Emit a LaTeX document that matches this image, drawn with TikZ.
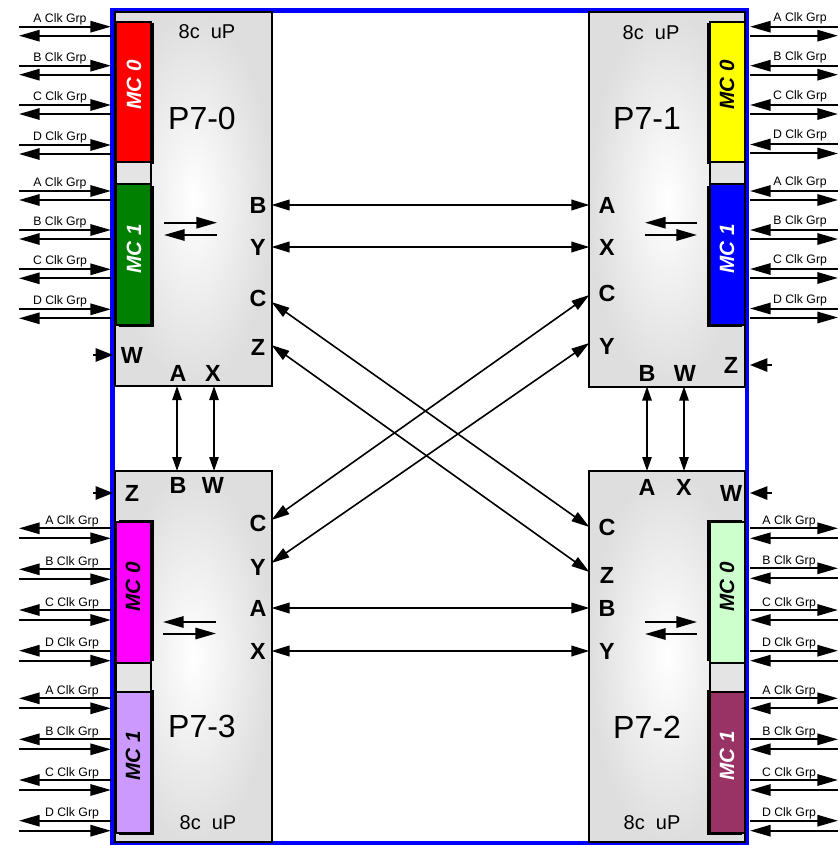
\documentclass[tikz,border=0pt]{standalone}
\usepackage{fontspec}
\setmainfont{Liberation Sans}
\usetikzlibrary{arrows.meta}

\definecolor{frameblue}{RGB}{0,0,255}
\definecolor{mcred}{RGB}{255,0,0}
\definecolor{mcgreen}{RGB}{0,128,0}
\definecolor{mcyellow}{RGB}{255,255,0}
\definecolor{mcblue}{RGB}{0,0,255}
\definecolor{mcmagenta}{RGB}{255,0,255}
\definecolor{mclilac}{RGB}{204,153,255}
\definecolor{mcmint}{RGB}{204,255,204}
\definecolor{mcplum}{RGB}{153,51,102}
\definecolor{boxgray}{RGB}{222,222,222}
\definecolor{gapgray}{RGB}{228,228,228}

\tikzset{
  procbox/.style={draw=black, line width=1.5pt, inner color=white, outer color=boxgray},
  mcblock/.style={draw=black, line width=1.3pt},
  mcshade/.style={fill=black},
  mcgap/.style={draw=black, line width=1pt, fill=gapgray},
  mctext/.style={font=\fontsize{15.5}{16}\selectfont\bfseries\itshape, rotate=90, inner sep=0pt},
  chip/.style={font=\fontsize{24}{26}\selectfont, inner sep=0pt},
  cores/.style={font=\fontsize{15}{16}\selectfont, inner sep=0pt},
  port/.style={font=\fontsize{17.5}{18}\selectfont\bfseries, inner sep=0pt},
  grp/.style={font=\fontsize{9.2}{10}\selectfont, inner sep=0pt, anchor=base},
  clk/.style={line width=1.5pt, -{Triangle[length=15.5pt,width=8.5pt]}},
  link/.style={line width=1.2pt, {Triangle[length=13.5pt,width=8pt]}-{Triangle[length=13.5pt,width=8pt]}},
  vlink/.style={line width=1.2pt, {Triangle[length=10.5pt,width=7pt]}-{Triangle[length=10.5pt,width=7pt]}},
  stub/.style={line width=1.2pt, -{Triangle[length=13pt,width=10pt]}},
}

\begin{document}
\begin{tikzpicture}[x=0.75pt,y=-0.75pt]
\useasboundingbox (0,0) rectangle (839,845);

% board outline
\draw[frameblue, line width=3.6pt] (112.5,10.5) rectangle (747,843.5);

% processor boxes
\draw[procbox] (115,12) rectangle (271.5,386);
\draw[procbox] (589.3,12) rectangle (745,386.5);
\draw[procbox] (115,471) rectangle (271.5,842);
\draw[procbox] (589.3,471) rectangle (745,842);

% memory controllers of P7-0
\fill[mcshade] (118.5,23.5) rectangle (153.5,163.5);
\fill[mcshade] (118.5,185.5) rectangle (153.5,326.5);
\draw[mcgap] (116,162) rectangle (151,184);
\draw[mcblock, fill=mcred] (116,22) rectangle (151,162);
\draw[mcblock, fill=mcgreen] (116,184) rectangle (151,325);
\node[mctext, text=white] (p0mc0) at (134,85) {MC 0};
\node[mctext, text=white] (p0mc1) at (134,249) {MC 1};

% memory controllers of P7-1
\fill[mcshade] (707,23.5) rectangle (742,163.5);
\fill[mcshade] (707,185.5) rectangle (742,326.5);
\draw[mcgap] (710,162) rectangle (745,184);
\draw[mcblock, fill=mcyellow] (710,22) rectangle (745,162);
\draw[mcblock, fill=mcblue] (710,184) rectangle (745,325);
\node[mctext, text=black] (p1mc0) at (727,85) {MC 0};
\node[mctext, text=white] (p1mc1) at (727,249) {MC 1};

% memory controllers of P7-3
\fill[mcshade] (119,519.5) rectangle (154,660.5);
\fill[mcshade] (119,689.5) rectangle (154,835);
\draw[mcgap] (116,663) rectangle (151,692);
\draw[mcblock, fill=mcmagenta] (116,522) rectangle (151,663);
\draw[mcblock, fill=mclilac] (116,692) rectangle (151,833);
\node[mctext, text=black] (p3mc0) at (133,587) {MC 0};
\node[mctext, text=black] (p3mc1) at (133,756) {MC 1};

% memory controllers of P7-2
\fill[mcshade] (707,519.5) rectangle (742,660.5);
\fill[mcshade] (707,689.5) rectangle (742,835);
\draw[mcgap] (710,663) rectangle (745,692);
\draw[mcblock, fill=mcmint] (710,522) rectangle (745,663);
\draw[mcblock, fill=mcplum] (710,692) rectangle (745,833);
\node[mctext, text=black] (p2mc0) at (727,587) {MC 0};
\node[mctext, text=white] (p2mc1) at (727,756) {MC 1};

% chip names and core counts
\node[chip] (n0) at (202,118) {P7-0};
\node[chip] (n1) at (647,118) {P7-1};
\node[chip] (n3) at (202,726) {P7-3};
\node[chip] (n2) at (647,727) {P7-2};
\node[cores] (c0) at (207,32) {8c\ \ uP};
\node[cores] (c1) at (651,32.5) {8c\ \ uP};
\node[cores] (c3) at (208,822.5) {8c\ \ uP};
\node[cores] (c2) at (652,822.5) {8c\ \ uP};

% clock group buses, P7-0 (left, top)
\foreach \yy/\g [count=\i] in {26.7/A,65.7/B,105/C,145/D,191/A,230/B,269.3/C,309.3/D}{
  \coordinate (tl\i-uo) at (19,\yy);
  \coordinate (tl\i-ui) at (111,\yy);
  \coordinate (tl\i-lo) at (19,\yy+9);
  \coordinate (tl\i-li) at (111,\yy+9);
  \draw[clk] (tl\i-uo) -- (tl\i-ui);
  \draw[clk] (tl\i-li) -- (tl\i-lo);
  \node[grp] (tl\i-lab) at (60,\yy-4.5) {\g\ Clk Grp};
}

% clock group buses, P7-1 (right, top)
\foreach \yy/\g [count=\i] in {26.7/A,65.7/B,105/C,144.5/D,191/A,230/B,269/C,308.5/D}{
  \coordinate (tr\i-uo) at (838,\yy);
  \coordinate (tr\i-ui) at (750,\yy);
  \coordinate (tr\i-lo) at (838,\yy+9);
  \coordinate (tr\i-li) at (750,\yy+9);
  \draw[clk] (tr\i-uo) -- (tr\i-ui);
  \draw[clk] (tr\i-li) -- (tr\i-lo);
  \node[grp] (tr\i-lab) at (800,\yy-5.5) {\g\ Clk Grp};
}

% clock group buses, P7-3 (left, bottom)
\foreach \yy/\g [count=\i] in {528.3/A,569.3/B,610/C,650.7/D,698.3/A,739.3/B,780/C,820.7/D}{
  \coordinate (bl\i-uo) at (19,\yy);
  \coordinate (bl\i-ui) at (111,\yy);
  \coordinate (bl\i-lo) at (19,\yy+10);
  \coordinate (bl\i-li) at (111,\yy+10);
  \draw[clk] (bl\i-ui) -- (bl\i-uo);
  \draw[clk] (bl\i-lo) -- (bl\i-li);
  \node[grp] (bl\i-lab) at (72,\yy-4) {\g\ Clk Grp};
}

% clock group buses, P7-2 (right, bottom)
\foreach \yy/\g [count=\i] in {528.3/A,568.3/B,610/C,650.7/D,698.3/A,739.3/B,780/C,820.7/D}{
  \coordinate (br\i-uo) at (838,\yy);
  \coordinate (br\i-ui) at (750,\yy);
  \coordinate (br\i-lo) at (838,\yy+10);
  \coordinate (br\i-li) at (750,\yy+10);
  \draw[clk] (br\i-ui) -- (br\i-uo);
  \draw[clk] (br\i-lo) -- (br\i-li);
  \node[grp] (br\i-lab) at (789,\yy-4) {\g\ Clk Grp};
}

% controller to core traffic inside each chip
\coordinate (i0a) at (164,222.7); \coordinate (i0b) at (217,222.7);
\coordinate (i0c) at (217,235);   \coordinate (i0d) at (164,235);
\draw[clk] (i0a) -- (i0b); \draw[clk] (i0c) -- (i0d);
\coordinate (i1a) at (697,222.7); \coordinate (i1b) at (645,222.7);
\coordinate (i1c) at (645,235);   \coordinate (i1d) at (697,235);
\draw[clk] (i1a) -- (i1b); \draw[clk] (i1c) -- (i1d);
\coordinate (i3a) at (216,622); \coordinate (i3b) at (163,622);
\coordinate (i3c) at (163,633.5); \coordinate (i3d) at (216,633.5);
\draw[clk] (i3a) -- (i3b); \draw[clk] (i3c) -- (i3d);
\coordinate (i2a) at (645,622); \coordinate (i2b) at (697,622);
\coordinate (i2c) at (697,634); \coordinate (i2d) at (645,634);
\draw[clk] (i2a) -- (i2b); \draw[clk] (i2c) -- (i2d);

% port letters
\node[port] (l0B) at (258,205) {B};
\node[port] (l0Y) at (258,247) {Y};
\node[port] (l0C) at (258,298) {C};
\node[port] (l0Z) at (258,347) {Z};
\node[port] (l0W) at (132,355) {W};
\node[port] (l0A) at (178,373) {A};
\node[port] (l0X) at (213,373) {X};

\node[port] (l1A) at (607,205) {A};
\node[port] (l1X) at (607,247) {X};
\node[port] (l1C) at (607,293) {C};
\node[port] (l1Y) at (607,346) {Y};
\node[port] (l1B) at (647,373) {B};
\node[port] (l1W) at (685,373) {W};
\node[port] (l1Z) at (731,365) {Z};

\node[port] (l3Z) at (132,493) {Z};
\node[port] (l3B) at (178,485) {B};
\node[port] (l3W) at (213,485) {W};
\node[port] (l3C) at (258,523) {C};
\node[port] (l3Y) at (258,567) {Y};
\node[port] (l3A) at (258,608) {A};
\node[port] (l3X) at (258,651) {X};

\node[port] (l2A) at (647,487) {A};
\node[port] (l2X) at (684,487) {X};
\node[port] (l2W) at (731,493) {W};
\node[port] (l2C) at (607,527) {C};
\node[port] (l2Z) at (607,575) {Z};
\node[port] (l2B) at (607,608) {B};
\node[port] (l2Y) at (607,651) {Y};

% port pins on the chip outlines
\coordinate (q0B) at (271.5,205);  \coordinate (q1A) at (589.3,205);
\coordinate (q0Y) at (271.5,247);  \coordinate (q1X) at (589.3,247);
\coordinate (q0C) at (271.5,302);  \coordinate (q2C) at (589.3,527);
\coordinate (q0Z) at (271.5,345);  \coordinate (q2Z) at (589.3,572);
\coordinate (q1C) at (589.3,295);  \coordinate (q3C) at (271.5,520);
\coordinate (q1Y) at (589.3,343);  \coordinate (q3Y) at (271.5,563);
\coordinate (q3A) at (271.5,608);  \coordinate (q2B) at (589.3,608);
\coordinate (q3X) at (271.5,651);  \coordinate (q2Y) at (589.3,651);
\coordinate (q0A) at (177,386);    \coordinate (q3B) at (177,471);
\coordinate (q0X) at (214,386);    \coordinate (q3W) at (214,471);
\coordinate (q1B) at (647,386.5);  \coordinate (q2A) at (647,471);
\coordinate (q1W) at (684,386.5);  \coordinate (q2X) at (684,471);

% chip to chip links
\draw[link] (q0B) -- (q1A);
\draw[link] (q0Y) -- (q1X);
\draw[link] (q0C) -- (q2C);
\draw[link] (q0Z) -- (q2Z);
\draw[link] (q1C) -- (q3C);
\draw[link] (q1Y) -- (q3Y);
\draw[link] (q3A) -- (q2B);
\draw[link] (q3X) -- (q2Y);
\draw[vlink] (q0A) -- (q3B);
\draw[vlink] (q0X) -- (q3W);
\draw[vlink] (q1B) -- (q2A);
\draw[vlink] (q1W) -- (q2X);

% unconnected inputs
\coordinate (s0o) at (93,355);  \coordinate (s0i) at (113,355);
\coordinate (s3o) at (93,493);  \coordinate (s3i) at (113,493);
\coordinate (s1o) at (772,365); \coordinate (s1i) at (750,365);
\coordinate (s2o) at (772,493); \coordinate (s2i) at (750,493);
\draw[stub] (s0o) -- (s0i);
\draw[stub] (s3o) -- (s3i);
\draw[stub] (s1o) -- (s1i);
\draw[stub] (s2o) -- (s2i);
\end{tikzpicture}
\end{document}
